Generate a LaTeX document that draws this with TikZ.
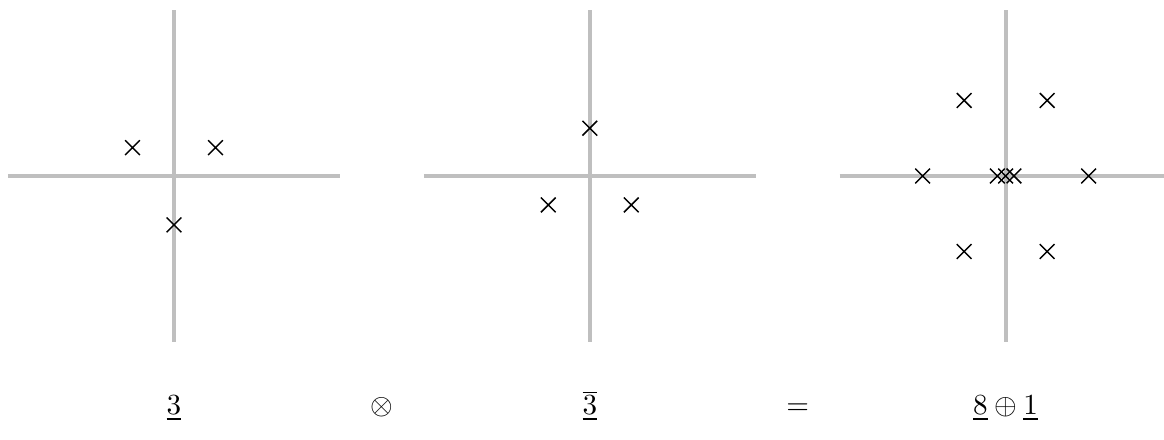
\documentclass[tikz,border=0pt]{standalone}
\usepackage{amsmath,amssymb}
\usetikzlibrary{shapes.misc,positioning}
\tikzset{
  axisline/.style={draw=black!25,line width=1.3pt},
  wt/.style={cross out,draw=black,line width=.5pt,minimum size=1.6mm,inner sep=0pt},
  replabel/.style={anchor=base,font=\normalsize},
}

\begin{document}
\begin{tikzpicture}
  \clip (-2.096,-3.181) rectangle (11.928,2.120);
  % weight diagrams: axes
  \foreach \p/\cx in {a/0,b/5.01,c/10.02}{
    \coordinate (\p) at (\cx,0);
    \draw[axisline] (\cx-2,0) -- (\cx+2,0);
    \draw[axisline] (\cx,-2) -- (\cx,2);
  }
  % triplet
  \foreach \x/\y [count=\k] in {-0.5/0.341,0.5/0.341,0/-0.59}
    \node[wt] (t\k) at (\x,\y) {};
  % antitriplet
  \foreach \x/\y [count=\k] in {0/0.575,-0.5/-0.349,0.5/-0.349}
    \node[wt] (tb\k) at (5.01+\x,\y) {};
  % octet and singlet
  \foreach \x/\y [count=\k] in {-0.5/0.91,0.5/0.91,-1/0,1/0,-0.1/0,0/0,0.1/0,-0.5/-0.91,0.5/-0.91}
    \node[wt] (o\k) at (10.02+\x,\y) {};
  % labels
  \node[replabel] (l3) at (0,-2.88) {$\underline{3}$};
  \node[replabel] (ltimes) at (2.505,-2.88) {$\otimes$};
  \node[replabel] (l3b) at (5.01,-2.88) {$\underline{\overline{3}}$};
  \node[replabel] (leq) at (7.515,-2.88) {$=$};
  \node[replabel] (l81) at (10.02,-2.88) {$\underline{8}\oplus\underline{1}$};
\end{tikzpicture}
\end{document}
